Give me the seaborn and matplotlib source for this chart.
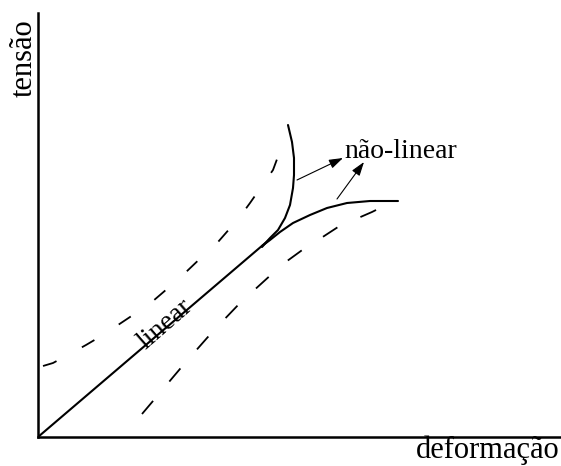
import numpy as np
import pandas as pd
import matplotlib
matplotlib.use("Agg")
import matplotlib.pyplot as plt
import seaborn as sns

# curve points (x = strain, y = stress, arbitrary units)
linear_x = [0, 232]
linear_y = [0, 198]

upper_branch_x = [224, 232, 240, 247, 252, 255, 256, 256, 254, 250]
upper_branch_y = [190, 199, 207, 219, 232, 249, 262, 279, 295, 312]

lower_branch_x = [224, 232, 242, 255, 272, 289, 309, 332, 360]
lower_branch_y = [191, 197, 205, 214, 222, 229, 234, 236, 236]

upper_dash_x = [5, 15, 39, 48, 70, 80, 104, 115, 136, 147, 169, 180, 201, 212, 235, 245]
upper_dash_y = [71, 74, 87, 92, 105, 112, 128, 136, 154, 164, 185, 195, 219, 234, 267, 294]

lower_dash_x = [104, 115, 136, 147, 169, 180, 202, 213, 235, 245, 267, 277, 300, 311, 334, 344]
lower_dash_y = [23, 36, 61, 74, 99, 111, 134, 144, 164, 173, 189, 195, 210, 215, 225, 230]

# arrows: (start, tip)
arrow_starts = [(259, 257), (299, 238)]
arrow_tips = [(305, 279), (326, 275)]

sns.set_theme(style="white")
plt.rcParams['font.family'] = ['Liberation Serif', 'DejaVu Serif']
plt.rcParams['text.color'] = 'black'

fig = plt.figure(figsize=(5.61, 4.66), dpi=100)
ax = fig.add_axes([38 / 561, 29 / 466, 523 / 561, 424 / 466])
ax.set_xlim(0, 523)
ax.set_ylim(0, 424)

lw = 1.5
for xs, ys in [(linear_x, linear_y), (upper_branch_x, upper_branch_y),
               (lower_branch_x, lower_branch_y)]:
    sns.lineplot(x=xs, y=ys, ax=ax, sort=False, estimator=None,
                 color='black', linewidth=lw)

sns.lineplot(x=upper_dash_x, y=upper_dash_y, ax=ax, sort=False, estimator=None,
             color='black', linewidth=1.3, linestyle=(0, (8, 16)))
sns.lineplot(x=lower_dash_x, y=lower_dash_y, ax=ax, sort=False, estimator=None,
             color='black', linewidth=1.3, linestyle=(0, (9.5, 14)))

for s, t in zip(arrow_starts, arrow_tips):
    ax.annotate('', xy=t, xytext=s,
                arrowprops=dict(arrowstyle='-|>,head_length=0.6,head_width=0.2',
                                color='black', lw=0.8,
                                mutation_scale=14, shrinkA=0, shrinkB=0))

ax.text(306, 279, 'não-linear', fontsize=20, ha='left', va='baseline', color='black')
ax.text(131, 108, 'linear', fontsize=20, rotation=41, rotation_mode='anchor',
        ha='center', va='baseline', color='black')

for side in ['top', 'right']:
    ax.spines[side].set_visible(False)
for side in ['left', 'bottom']:
    ax.spines[side].set_color('black')
    ax.spines[side].set_linewidth(1.8)
ax.set_xticks([])
ax.set_yticks([])
ax.set_xlabel('')
ax.set_ylabel('')

fig.text(24 / 561, 1 - 19 / 466, 'tensão', fontsize=22, rotation=90,
         ha='center', va='top', color='black')
fig.text(560 / 561, 1 - 458 / 466, 'deformação', fontsize=22,
         ha='right', va='baseline', color='black')

fig.savefig('out.png', dpi=100, facecolor='white')
